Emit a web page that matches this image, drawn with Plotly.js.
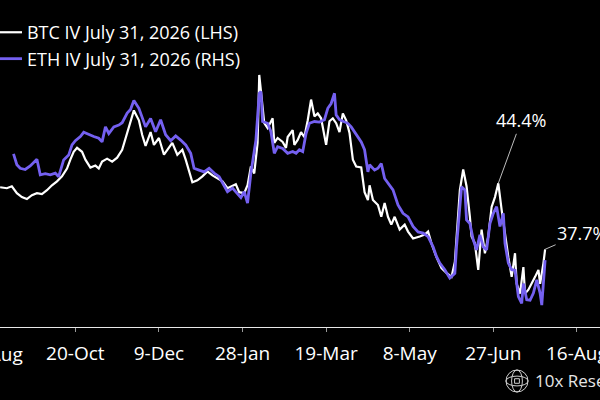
<!DOCTYPE html>
<html>
<head>
<meta charset="utf-8">
<script src="https://cdn.plot.ly/plotly-3.0.1.min.js"></script>
<style>
  html, body { margin: 0; padding: 0; background: #000; }
  #chart { width: 600px; height: 400px; }
</style>
</head>
<body>
<div id="chart"></div>
<script>
// ---- Data ----
var seriesNames = ['BTC IV July 31, 2026 (LHS)', 'ETH IV July 31, 2026 (RHS)'];

var btcDates = [
  '2025-09-05','2025-09-09','2025-09-12','2025-09-15','2025-09-18','2025-09-21','2025-09-24','2025-09-27','2025-09-30',
  '2025-10-03','2025-10-06','2025-10-09','2025-10-12','2025-10-15','2025-10-17','2025-10-19','2025-10-21','2025-10-24','2025-10-26','2025-10-29',
  '2025-11-01','2025-11-03','2025-11-05','2025-11-08','2025-11-11','2025-11-14','2025-11-17','2025-11-19','2025-11-22','2025-11-24','2025-11-27','2025-11-29',
  '2025-12-01','2025-12-04','2025-12-06','2025-12-09','2025-12-12','2025-12-15','2025-12-17','2025-12-20','2025-12-23','2025-12-25','2025-12-27','2025-12-29',
  '2026-01-01','2026-01-04','2026-01-07','2026-01-10','2026-01-13','2026-01-16','2026-01-19','2026-01-22','2026-01-24','2026-01-26','2026-01-29','2026-01-31',
  '2026-02-02','2026-02-04','2026-02-06','2026-02-07','2026-02-08','2026-02-10','2026-02-12','2026-02-15','2026-02-16','2026-02-18','2026-02-21','2026-02-23','2026-02-24','2026-02-27','2026-02-28',
  '2026-03-02','2026-03-04','2026-03-06','2026-03-08','2026-03-10','2026-03-12','2026-03-14','2026-03-16','2026-03-18','2026-03-19','2026-03-21','2026-03-23','2026-03-25','2026-03-27','2026-03-29','2026-03-31',
  '2026-04-02','2026-04-04','2026-04-06','2026-04-09','2026-04-11','2026-04-13','2026-04-14','2026-04-16','2026-04-19','2026-04-21','2026-04-23','2026-04-25','2026-04-27','2026-04-29',
  '2026-05-02','2026-05-05','2026-05-07','2026-05-10','2026-05-14','2026-05-17','2026-05-19','2026-05-21','2026-05-24','2026-05-27','2026-05-30',
  '2026-06-02','2026-06-04','2026-06-05','2026-06-07','2026-06-09','2026-06-11','2026-06-13','2026-06-14','2026-06-16','2026-06-18','2026-06-20','2026-06-22','2026-06-24','2026-06-26','2026-06-28','2026-06-30',
  '2026-07-02','2026-07-04','2026-07-06','2026-07-08','2026-07-10','2026-07-11','2026-07-13','2026-07-15','2026-07-16','2026-07-18','2026-07-20','2026-07-22','2026-07-24','2026-07-25','2026-07-27','2026-07-28'
];
var btcIV = [
  44.0,43.9,44.1,43.4,43.0,42.8,43.2,43.4,43.3,
  43.7,44.2,44.6,45.1,45.9,46.8,47.6,48.0,47.6,46.8,46.0,
  46.2,45.9,46.6,46.9,46.6,47.0,47.8,49.0,50.7,51.8,50.8,49.3,
  48.2,49.6,48.3,49.0,47.3,48.0,48.5,47.3,47.8,46.8,45.6,44.5,
  44.7,45.1,45.6,45.2,44.9,44.6,43.9,44.1,44.3,43.5,43.4,44.2,
  46.1,45.4,48.5,55.4,53.5,50.5,50.0,51.0,48.5,49.0,48.6,48.0,49.1,49.8,48.3,
  48.8,49.6,49.1,50.8,52.9,51.2,51.5,51.0,49.0,48.3,50.7,51.0,50.5,49.6,51.5,50.8,
  49.5,46.8,46.1,46.0,43.5,42.7,44.2,42.7,42.2,41.0,42.4,41.0,40.2,41.0,
  39.7,40.2,39.5,38.8,39.0,39.2,39.5,38.3,36.9,35.8,35.3,
  34.9,36.4,39.0,43.7,45.8,44.1,41.0,39.0,38.3,35.6,39.7,37.3,39.0,42.0,43.0,44.4,
  41.7,39.0,36.9,34.9,37.3,34.2,33.2,35.9,33.2,33.6,34.2,34.9,35.6,34.2,36.3,37.7
];

var ethDates = [
  '2025-09-13','2025-09-15','2025-09-17','2025-09-20','2025-09-23','2025-09-27','2025-09-29',
  '2025-10-02','2025-10-05','2025-10-08','2025-10-10','2025-10-13','2025-10-16','2025-10-18','2025-10-20','2025-10-23','2025-10-25','2025-10-28','2025-10-31',
  '2025-11-03','2025-11-05','2025-11-07','2025-11-09','2025-11-12','2025-11-15','2025-11-17','2025-11-20','2025-11-22','2025-11-24','2025-11-27','2025-11-29',
  '2025-12-01','2025-12-04','2025-12-07','2025-12-10','2025-12-13','2025-12-16','2025-12-19','2025-12-22','2025-12-25','2025-12-28','2025-12-30',
  '2026-01-02','2026-01-05','2026-01-08','2026-01-11','2026-01-14','2026-01-17','2026-01-19','2026-01-22','2026-01-25','2026-01-27','2026-01-29','2026-01-31',
  '2026-02-02','2026-02-05','2026-02-07','2026-02-08','2026-02-09','2026-02-12','2026-02-14','2026-02-16','2026-02-18','2026-02-21','2026-02-24','2026-02-27',
  '2026-03-01','2026-03-03','2026-03-05','2026-03-07','2026-03-09','2026-03-12','2026-03-15','2026-03-18','2026-03-20','2026-03-22','2026-03-24','2026-03-25','2026-03-27','2026-03-30',
  '2026-04-01','2026-04-03','2026-04-05','2026-04-07','2026-04-09','2026-04-11','2026-04-13','2026-04-14','2026-04-17','2026-04-19','2026-04-21','2026-04-23','2026-04-25','2026-04-28',
  '2026-05-01','2026-05-04','2026-05-07','2026-05-10','2026-05-13','2026-05-16','2026-05-19','2026-05-22','2026-05-24','2026-05-26','2026-05-29',
  '2026-06-01','2026-06-04','2026-06-05','2026-06-07','2026-06-08','2026-06-10','2026-06-11','2026-06-13','2026-06-15','2026-06-17','2026-06-19','2026-06-21','2026-06-23','2026-06-25','2026-06-27','2026-06-29',
  '2026-07-01','2026-07-03','2026-07-04','2026-07-06','2026-07-08','2026-07-10','2026-07-12','2026-07-14','2026-07-15','2026-07-17','2026-07-19','2026-07-21','2026-07-23','2026-07-25','2026-07-26','2026-07-28'
];
var ethIV = [
  75.9,74.1,73.5,73.3,73.9,75.0,72.4,
  72.6,72.4,72.7,72.1,74.9,75.7,77.4,78.1,78.8,79.5,79.1,78.8,
  78.5,77.9,80.4,79.3,80.4,80.7,81.1,82.7,83.3,84.8,83.5,82.1,
  80.4,81.8,79.6,81.6,79.1,78.1,78.9,78.2,77.4,76.0,73.5,
  73.2,72.9,73.5,72.7,72.1,70.7,69.6,70.2,69.3,68.6,69.6,67.7,
  72.7,78.2,86.0,86.3,81.3,81.0,79.6,76.0,77.1,76.8,76.0,76.3,
  76.0,76.6,76.3,79.3,81.0,81.3,81.2,81.6,83.5,84.3,86.0,82.4,81.6,81.3,
  81.0,80.4,79.6,78.8,77.9,76.6,72.9,74.1,73.2,73.5,74.3,71.8,71.0,69.9,
  67.4,66.0,65.4,63.8,62.9,62.7,62.1,60.4,58.8,57.7,56.6,
  55.2,56.0,60.4,67.1,70.4,69.9,64.9,64.3,61.6,59.9,62.4,60.4,59.9,64.3,66.0,67.1,
  63.8,66.0,61.0,57.7,56.6,56.5,52.1,51.0,54.3,51.6,51.5,52.7,54.9,52.7,50.7,58.2
];

var annotatedDates = ['2026-06-30', '2026-07-28'];
var firstTickLabel = '31-Aug';
var tickStart = '2025-10-20';
var tickStepDays = 50;
var watermarkText = '10x Research';

// ---- Styling ----
var FONT = '"Open Sans", "DejaVu Sans", sans-serif';
var TICK_SIZE = 19;
var xRange = ['2025-09-04 22:00', '2026-08-29 20:00'];
var yRange = [29.81, 63.01];
var y2Range = [47.05, 101.55];

var traces = [
  { x: btcDates, y: btcIV, name: seriesNames[0], type: 'scatter', mode: 'lines',
    line: { color: '#ffffff', width: 2.2 }, yaxis: 'y', hoverinfo: 'skip' },
  { x: ethDates, y: ethIV, name: seriesNames[1], type: 'scatter', mode: 'lines',
    line: { color: '#7460f0', width: 2.8 }, yaxis: 'y2', hoverinfo: 'skip' }
];

var annotations = annotatedDates.map(function (d, i) {
  var v = btcIV[btcDates.indexOf(d)];
  return {
    x: d, y: v, xref: 'x', yref: 'y',
    text: v.toFixed(1) + '%',
    showarrow: true, arrowhead: 0, arrowwidth: 1, arrowcolor: '#bdbdbd',
    ax: i === 0 ? 23 : 37, ay: i === 0 ? -63 : -16,
    font: { family: FONT, size: 18, color: '#ffffff' }
  };
});

// partially visible first tick label at the left edge
var t0 = new Date('2025-08-31T00:00:00Z').getTime();
var r0 = new Date(xRange[0].replace(' ', 'T') + ':00Z').getTime();
var r1 = new Date(xRange[1].replace(' ', 'T') + ':00Z').getTime();
annotations.push({
  x: (t0 - r0) / (r1 - r0), xref: 'paper', xanchor: 'center',
  y: -0.0826, yref: 'paper', yanchor: 'middle',
  text: firstTickLabel, showarrow: false,
  font: { family: FONT, size: TICK_SIZE, color: '#ffffff' }
});

annotations.push({
  x: 0.888, xref: 'paper', xanchor: 'left',
  y: -0.165, yref: 'paper', yanchor: 'middle',
  text: watermarkText, showarrow: false,
  font: { family: FONT, size: 17, color: '#e6e6e6' }
});

var wm = { x0: 0.8433, x1: 0.88, y0: -0.1988, y1: -0.1315 };
var cx = (wm.x0 + wm.x1) / 2, cy = (wm.y0 + wm.y1) / 2;
var shapes = [
  { type: 'circle', xref: 'paper', yref: 'paper', x0: wm.x0, x1: wm.x1, y0: wm.y0, y1: wm.y1,
    line: { color: '#cfcfcf', width: 1 } },
  { type: 'circle', xref: 'paper', yref: 'paper', x0: cx - 0.009, x1: cx + 0.009, y0: wm.y0, y1: wm.y1,
    line: { color: '#cfcfcf', width: 1 } },
  { type: 'circle', xref: 'paper', yref: 'paper', x0: wm.x0, x1: wm.x1, y0: cy - 0.015, y1: cy + 0.015,
    line: { color: '#cfcfcf', width: 1 } },
  { type: 'rect', xref: 'paper', yref: 'paper', x0: cx - 0.004, x1: cx + 0.004, y0: cy - 0.007, y1: cy + 0.007,
    line: { color: '#cfcfcf', width: 1 } }
];

var layout = {
  width: 600, height: 400,
  paper_bgcolor: '#000000', plot_bgcolor: '#000000',
  margin: { l: 0, r: 0, t: 0, b: 73, autoexpand: false },
  font: { family: FONT, color: '#ffffff' },
  showlegend: true,
  legend: {
    x: -0.0217, xanchor: 'left', y: 0.957, yanchor: 'top',
    bgcolor: 'rgba(0,0,0,0)', borderwidth: 0,
    font: { family: FONT, size: 18, color: '#ffffff' },
    traceorder: 'normal'
  },
  xaxis: {
    type: 'date', range: xRange,
    tick0: tickStart, dtick: tickStepDays * 86400000,
    tickformat: '%-d-%b',
    showgrid: false, zeroline: false,
    showline: true, linecolor: '#e8e8e8', linewidth: 1.2,
    ticks: 'outside', ticklen: 4, tickwidth: 1, tickcolor: '#999999',
    ticklabelstandoff: 5,
    ticklabeloverflow: 'allow',
    tickfont: { family: FONT, size: TICK_SIZE, color: '#ffffff' },
    fixedrange: true
  },
  yaxis: {
    range: yRange, showgrid: false, zeroline: false, showline: false,
    showticklabels: false, ticks: '', fixedrange: true
  },
  yaxis2: {
    range: y2Range, overlaying: 'y', side: 'right', showgrid: false, zeroline: false,
    showline: false, showticklabels: false, ticks: '', fixedrange: true
  },
  annotations: annotations,
  shapes: shapes
};

Plotly.newPlot('chart', traces, layout, { displayModeBar: false, staticPlot: true });
</script>
</body>
</html>
